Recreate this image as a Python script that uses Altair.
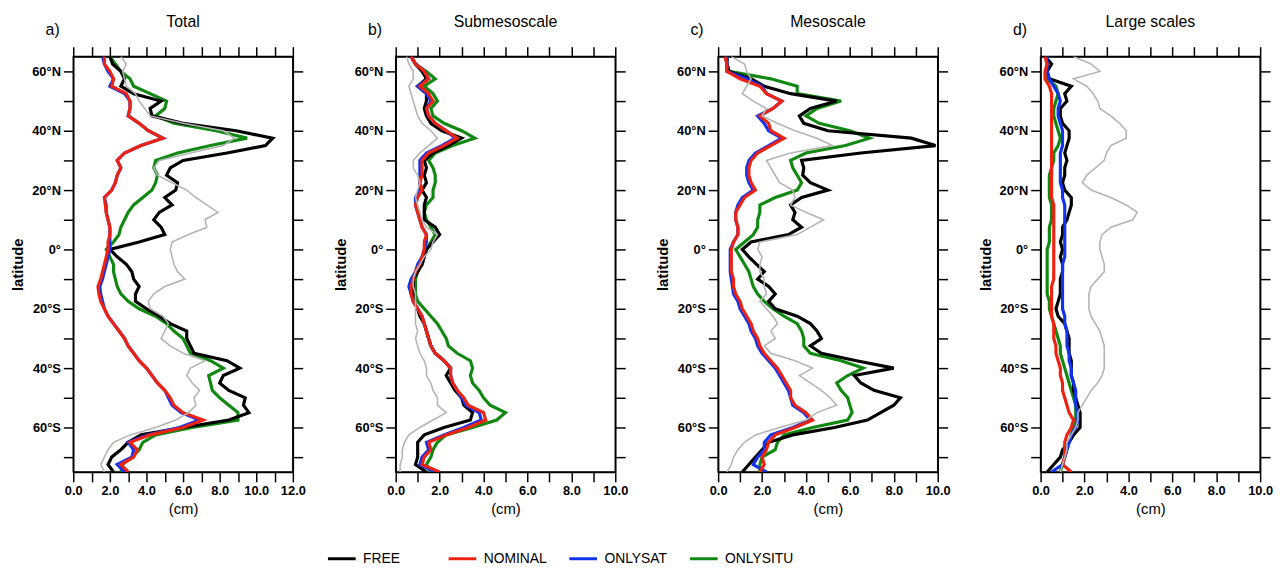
import altair as alt
import pandas as pd

# latitude grid (north to south), 2.5 degree steps
LAT = [65.0, 62.5, 60.0, 57.5, 55.0, 52.5, 50.0, 47.5, 45.0, 42.5,
       40.0, 37.5, 35.0, 32.5, 30.0, 27.5, 25.0, 22.5, 20.0, 17.5,
       15.0, 12.5, 10.0, 7.5, 5.0, 2.5, 0.0, -2.5, -5.0, -7.5,
       -10.0, -12.5, -15.0, -17.5, -20.0, -22.5, -25.0, -27.5, -30.0, -32.5,
       -35.0, -37.5, -40.0, -42.5, -45.0, -47.5, -50.0, -52.5, -55.0, -57.5,
       -60.0, -62.5, -65.0, -67.5, -70.0, -72.5, -75.0]

SERIES = ["FREE", "NOMINAL", "ONLYSAT", "ONLYSITU"]
COLORS = ["#000000", "#ee2211", "#1133ee", "#118811"]
GRAY_NAME = "REFERENCE"
GRAY = "#b4b4b4"

PANELS = ["Total", "Submesoscale", "Mesoscale", "Large scales"]
LETTERS = ["a)", "b)", "c)", "d)"]
XMAX = [12, 10, 10, 10]

# ---- a) Total
a_free = [2.0, 2.15, 2.6, 2.8, 2.6, 3.3, 4.8, 4.2, 4.3, 6.0,
          8.9, 10.9, 10.5, 8.4, 6.0, 5.3, 5.1, 5.7, 5.6, 5.0,
          5.4, 4.7, 4.4, 4.8, 5.0, 3.6, 2.0, 2.4, 2.9, 3.2,
          3.3, 3.6, 3.4, 3.4, 4.0, 4.7, 5.3, 6.2, 6.2, 6.4,
          6.6, 8.4, 9.1, 8.2, 8.0, 8.5, 9.4, 9.3, 9.6, 8.5,
          6.0, 3.7, 3.0, 2.6, 2.1, 1.9, 2.2]
a_nominal = [1.7, 1.7, 2.0, 2.2, 2.1, 2.9, 3.1, 3.1, 3.0, 3.6,
             4.1, 4.9, 3.7, 2.8, 2.4, 2.6, 2.4, 2.3, 2.1, 1.7,
             1.75, 1.8, 1.9, 2.0, 2.0, 1.9, 1.9, 1.8, 1.7, 1.6,
             1.5, 1.35, 1.4, 1.5, 1.7, 1.9, 2.2, 2.5, 2.8, 3.0,
             3.3, 3.6, 4.0, 4.3, 4.6, 5.0, 5.3, 5.5, 6.0, 7.1,
             6.0, 4.2, 3.1, 3.5, 3.3, 2.6, 3.0]
a_onlysat = [1.6, 1.7, 1.9, 2.2, 2.0, 2.8, 3.1, 3.1, 3.0, 3.6,
             4.1, 4.9, 3.7, 2.8, 2.4, 2.6, 2.4, 2.3, 2.1, 1.7,
             1.8, 1.8, 1.9, 2.0, 2.0, 2.0, 2.0, 1.9, 1.8, 1.7,
             1.6, 1.45, 1.5, 1.6, 1.7, 1.9, 2.2, 2.5, 2.8, 3.0,
             3.3, 3.6, 4.0, 4.3, 4.6, 5.0, 5.2, 5.4, 5.9, 6.9,
             5.8, 4.1, 3.0, 3.3, 3.2, 2.4, 2.8]
a_onlysitu = [2.0, 2.3, 2.6, 3.1, 3.3, 4.2, 5.1, 5.0, 4.5, 5.5,
              7.8, 9.5, 7.5, 5.7, 4.5, 4.4, 4.6, 4.5, 4.3, 3.8,
              3.3, 3.0, 2.8, 2.6, 2.5, 2.2, 1.8, 2.0, 2.2, 2.2,
              2.3, 2.4, 2.6, 3.0, 3.6, 4.5, 5.1, 5.5, 6.0, 6.2,
              6.4, 7.5, 8.2, 7.4, 7.5, 7.6, 8.0, 8.5, 9.0, 9.0,
              6.5, 4.5, 3.8, 3.6, 3.2, 2.7, 2.6]
a_ref = [2.6, 2.9, 2.7, 2.8, 2.9, 3.4, 3.6, 3.9, 4.2, 6.0,
         8.2, 8.8, 8.2, 6.4, 4.7, 4.4, 4.6, 5.4, 6.2, 6.7,
         7.3, 7.9, 7.2, 7.3, 6.3, 5.4, 5.3, 5.4, 5.5, 5.7,
         6.1, 5.0, 4.4, 4.1, 4.2, 4.9, 5.2, 5.0, 4.8, 5.3,
         6.0, 7.2, 6.4, 6.2, 6.5, 6.9, 6.6, 6.7, 6.3, 5.6,
         4.5, 3.1, 2.2, 1.9, 1.7, 1.5, 1.7]

# ---- b) Submesoscale
b_free = [0.7, 0.9, 1.2, 1.4, 1.0, 1.4, 1.4, 1.3, 1.4, 1.6,
          2.1, 3.0, 2.4, 1.7, 1.3, 1.4, 1.3, 1.4, 1.2, 1.4,
          1.3, 1.3, 1.3, 1.8, 2.0, 1.7, 1.4, 1.3, 1.2, 1.0,
          0.8, 0.8, 0.8, 0.8, 1.0, 1.1, 1.3, 1.4, 1.5, 1.6,
          1.8, 2.2, 2.5, 2.3, 2.5, 2.7, 3.0, 3.1, 3.5, 3.4,
          2.2, 1.3, 1.0, 1.0, 1.0, 0.9, 1.4]
b_nominal = [0.7, 0.9, 1.3, 1.5, 1.1, 1.5, 1.7, 1.4, 1.5, 1.8,
             2.3, 2.8, 2.2, 1.5, 1.2, 1.2, 1.2, 1.1, 1.2, 1.0,
             0.9, 1.0, 1.1, 1.2, 1.4, 1.3, 1.3, 1.2, 1.1, 0.9,
             0.8, 0.7, 0.7, 0.8, 1.0, 1.2, 1.3, 1.4, 1.5, 1.6,
             1.8, 2.2, 2.5, 2.5, 2.6, 2.8, 3.1, 3.3, 4.0, 4.1,
             3.3, 2.3, 1.5, 1.6, 1.3, 1.2, 2.0]
b_onlysat = [0.7, 0.9, 1.3, 1.5, 1.0, 1.4, 1.6, 1.4, 1.5, 1.8,
             2.3, 2.7, 2.1, 1.4, 1.1, 1.1, 1.1, 1.1, 1.1, 0.9,
             0.9, 1.0, 1.1, 1.2, 1.4, 1.4, 1.3, 1.2, 1.0, 0.9,
             0.7, 0.6, 0.7, 0.8, 1.0, 1.2, 1.3, 1.4, 1.5, 1.6,
             1.8, 2.2, 2.5, 2.5, 2.6, 2.8, 3.0, 3.2, 3.8, 3.9,
             3.1, 2.2, 1.4, 1.5, 1.2, 1.1, 1.8]
b_onlysitu = [0.7, 0.9, 1.4, 1.8, 1.3, 1.7, 1.9, 1.6, 1.7, 2.2,
              3.0, 3.6, 2.6, 1.8, 1.5, 1.7, 1.8, 1.8, 1.7, 1.7,
              1.4, 1.3, 1.4, 1.6, 1.8, 1.6, 1.4, 1.3, 1.2, 1.0,
              0.9, 0.9, 0.9, 1.0, 1.3, 1.6, 1.9, 2.1, 2.3, 2.4,
              2.8, 3.4, 3.5, 3.4, 3.5, 3.8, 4.0, 4.3, 5.0, 4.6,
              3.5, 2.3, 1.9, 1.7, 1.6, 1.4, 1.6]
b_ref = [0.5, 0.6, 0.8, 0.8, 0.6, 0.7, 0.8, 0.9, 1.0, 1.2,
         1.6, 1.9, 1.5, 1.1, 0.8, 0.8, 1.0, 1.1, 1.0, 0.9,
         1.0, 1.1, 1.2, 1.4, 1.9, 1.7, 1.6, 1.3, 1.1, 0.9,
         0.8, 0.8, 0.9, 0.9, 0.9, 0.9, 0.9, 1.0, 0.9, 1.0,
         1.1, 1.3, 1.4, 1.4, 1.6, 1.7, 1.9, 1.9, 2.3, 1.7,
         1.1, 0.6, 0.4, 0.3, 0.3, 0.2, 0.2]

# ---- c) Mesoscale
c_free = [0.4, 0.4, 0.5, 1.5, 2.1, 3.3, 5.4, 4.2, 3.7, 3.9,
          5.0, 8.8, 9.9, 6.5, 3.8, 3.9, 3.85, 4.2, 5.0, 3.8,
          3.3, 3.5, 3.4, 3.8, 3.2, 1.5, 1.1, 1.4, 1.75, 2.1,
          1.8, 2.3, 2.6, 2.3, 2.6, 3.6, 4.2, 4.5, 4.7, 4.2,
          4.7, 6.3, 8.0, 6.2, 6.5, 7.1, 8.3, 8.0, 7.4, 6.8,
          5.3, 3.4, 2.3, 2.0, 1.7, 1.4, 1.1]
c_nominal = [0.3, 0.4, 0.4, 1.0, 1.9, 2.2, 2.9, 2.5, 1.9, 2.3,
             2.4, 3.0, 2.4, 1.8, 1.5, 1.4, 1.4, 1.5, 1.7, 1.2,
             1.0, 0.8, 0.8, 0.9, 0.9, 0.7, 0.6, 0.6, 0.6, 0.6,
             0.7, 0.7, 0.8, 1.0, 1.1, 1.3, 1.5, 1.6, 1.8, 1.9,
             2.1, 2.4, 2.7, 2.9, 3.1, 3.3, 3.3, 3.5, 4.0, 4.3,
             3.5, 2.6, 2.3, 2.2, 2.0, 2.1, 1.9]
c_onlysat = [0.4, 0.4, 0.4, 1.3, 2.0, 2.2, 2.9, 2.5, 1.8, 2.1,
             2.3, 2.9, 2.3, 1.7, 1.4, 1.3, 1.3, 1.4, 1.6, 1.1,
             0.9, 0.8, 0.8, 0.9, 0.9, 0.7, 0.55, 0.55, 0.55, 0.55,
             0.6, 0.65, 0.7, 0.9, 1.0, 1.2, 1.4, 1.5, 1.7, 1.8,
             2.0, 2.3, 2.6, 2.8, 3.0, 3.2, 3.3, 3.4, 3.9, 4.2,
             3.4, 2.4, 2.1, 2.1, 1.8, 1.6, 2.2]
c_onlysitu = [0.4, 0.4, 0.5, 2.4, 3.6, 3.6, 5.6, 4.5, 4.0, 4.6,
              6.0, 6.9, 5.8, 4.0, 3.3, 3.4, 3.6, 3.8, 3.6, 2.6,
              1.9, 1.9, 1.8, 1.8, 1.6, 1.2, 0.8, 1.0, 1.2, 1.4,
              1.5, 1.6, 1.8, 2.1, 2.5, 3.0, 3.6, 3.8, 3.9, 3.9,
              4.2, 5.6, 6.6, 5.9, 5.4, 5.6, 5.9, 6.0, 6.1, 5.9,
              4.3, 3.0, 2.7, 2.6, 2.0, 1.9, 1.9]
c_ref = [0.6, 1.2, 1.3, 1.5, 1.3, 1.1, 1.6, 2.2, 2.0, 2.7,
         3.5, 4.5, 5.2, 3.3, 2.2, 2.4, 2.6, 2.8, 3.4, 3.5,
         3.3, 4.0, 4.8, 4.2, 3.6, 1.9, 1.8, 2.0, 1.9, 1.9,
         2.1, 2.1, 2.2, 1.9, 2.2, 2.5, 2.7, 2.4, 2.6, 2.1,
         2.4, 3.5, 4.3, 3.7, 4.2, 4.7, 5.1, 5.4, 4.5, 4.0,
         2.8, 1.7, 1.2, 0.9, 0.7, 0.6, 0.4]

# ---- d) Large scales
d_free = [0.2, 0.5, 0.3, 0.4, 1.4, 1.1, 1.2, 0.9, 0.9, 1.0,
          1.3, 1.3, 1.2, 1.1, 1.2, 1.1, 1.1, 1.0, 1.1, 1.4,
          1.4, 1.3, 1.2, 1.0, 1.0, 0.9, 1.0, 0.9, 1.0, 1.0,
          0.9, 0.9, 0.9, 0.8, 0.7, 0.8, 1.1, 1.2, 1.3, 1.3,
          1.3, 1.4, 1.4, 1.4, 1.5, 1.5, 1.6, 1.7, 1.8, 1.8,
          1.8, 1.5, 1.3, 1.0, 0.9, 0.6, 0.3]
d_nominal = [0.2, 0.3, 0.2, 0.2, 0.4, 0.5, 0.5, 0.5, 0.5, 0.5,
             0.5, 0.5, 0.5, 0.5, 0.5, 0.5, 0.5, 0.5, 0.5, 0.5,
             0.6, 0.6, 0.6, 0.6, 0.6, 0.6, 0.6, 0.6, 0.6, 0.6,
             0.6, 0.5, 0.5, 0.5, 0.5, 0.5, 0.6, 0.6, 0.6, 0.7,
             0.7, 0.8, 0.9, 0.9, 1.0, 1.0, 1.1, 1.2, 1.3, 1.5,
             1.4, 1.2, 1.1, 1.1, 1.1, 1.0, 1.4]
d_onlysat = [0.3, 0.3, 0.3, 0.4, 0.6, 0.8, 0.9, 0.8, 0.8, 0.9,
             1.0, 1.0, 1.0, 0.9, 0.9, 0.9, 0.9, 0.9, 1.0, 1.0,
             1.1, 1.1, 1.1, 1.1, 1.1, 1.1, 1.1, 1.1, 1.0, 1.0,
             1.0, 1.0, 1.0, 1.0, 1.0, 1.1, 1.1, 1.2, 1.2, 1.2,
             1.3, 1.3, 1.4, 1.4, 1.5, 1.6, 1.6, 1.6, 1.7, 1.7,
             1.6, 1.4, 1.3, 1.2, 1.1, 1.0, 0.5]
d_onlysitu = [0.3, 0.3, 0.3, 0.3, 0.7, 0.8, 0.7, 0.6, 0.6, 0.7,
              0.8, 0.9, 0.8, 0.6, 0.6, 0.5, 0.4, 0.4, 0.4, 0.4,
              0.5, 0.5, 0.5, 0.4, 0.4, 0.4, 0.3, 0.3, 0.3, 0.3,
              0.3, 0.3, 0.3, 0.4, 0.4, 0.5, 0.6, 0.7, 0.8, 0.9,
              0.9, 1.0, 1.1, 1.2, 1.3, 1.4, 1.5, 1.6, 1.6, 1.6,
              1.5, 1.4, 1.3, 1.2, 1.1, 1.0, 0.9]
d_ref = [1.5, 2.3, 2.7, 1.5, 2.1, 2.4, 2.6, 2.7, 3.2, 3.6,
         3.9, 3.9, 3.2, 3.0, 2.9, 2.5, 2.1, 1.9, 2.3, 3.2,
         3.9, 4.4, 4.2, 3.2, 2.8, 2.7, 2.7, 2.8, 2.9, 2.9,
         2.6, 2.3, 2.2, 2.2, 2.2, 2.3, 2.5, 2.7, 2.8, 2.9,
         2.9, 2.9, 2.9, 2.8, 2.6, 2.3, 2.1, 1.9, 1.7, 1.7,
         1.6, 1.4, 1.2, 1.2, 1.1, 1.0, 0.9]

PANEL_DATA = {
    "Total": {"FREE": a_free, "NOMINAL": a_nominal, "ONLYSAT": a_onlysat,
              "ONLYSITU": a_onlysitu, GRAY_NAME: a_ref},
    "Submesoscale": {"FREE": b_free, "NOMINAL": b_nominal, "ONLYSAT": b_onlysat,
                     "ONLYSITU": b_onlysitu, GRAY_NAME: b_ref},
    "Mesoscale": {"FREE": c_free, "NOMINAL": c_nominal, "ONLYSAT": c_onlysat,
                  "ONLYSITU": c_onlysitu, GRAY_NAME: c_ref},
    "Large scales": {"FREE": d_free, "NOMINAL": d_nominal, "ONLYSAT": d_onlysat,
                     "ONLYSITU": d_onlysitu, GRAY_NAME: d_ref},
}

rows = []
for pname, series in PANEL_DATA.items():
    for sname, vals in series.items():
        for lat, v in zip(LAT, vals):
            rows.append({"panel": pname, "series": sname, "lat": lat, "val": v})
df = pd.DataFrame(rows)

FONT = "Liberation Sans"
LEGEND_FONT = "Liberation Sans Narrow, Arial Narrow, Liberation Sans"
W, H = 222, 420

Y_LABEL = ("datum.value % 20 == 0 ? (datum.value == 0 ? '0\u00b0' : "
           "(abs(datum.value) + '\u00b0' + (datum.value > 0 ? 'N' : 'S'))) : ''")
X_LABEL = "datum.value % 2 == 0 ? format(datum.value, '.1f') : ''"
Y_TICKS = [-70, -60, -50, -40, -30, -20, -10, 0, 10, 20, 30, 40, 50, 60]

color_scale = alt.Scale(domain=SERIES, range=COLORS)
legend = alt.Legend(
    orient="none", legendX=256, legendY=492, direction="horizontal",
    columns=4, gridAlign="all", columnPadding=11,
    symbolType="stroke", symbolSize=784, symbolStrokeWidth=3,
    labelFont=LEGEND_FONT, labelFontSize=14, labelColor="black",
    labelOffset=6, title=None, padding=0,
)


def panel(i):
    name = PANELS[i]
    d = df[df.panel == name]
    xmax = XMAX[i]
    xs = alt.Scale(domain=[0, xmax], nice=False, zero=False)
    ys = alt.Scale(domain=[-75, 65], nice=False, zero=False)
    xticks = list(range(0, xmax + 1))
    base = alt.Chart(d)

    def layer(sname, xaxis, yaxis, gray=False):
        sub = base.transform_filter(alt.datum.series == sname)
        enc = dict(
            x=alt.X("val:Q", scale=xs, axis=xaxis),
            y=alt.Y("lat:Q", scale=ys, axis=yaxis),
            order=alt.Order("lat:Q"),
        )
        if gray:
            return sub.mark_line(strokeWidth=1.6, color=GRAY, clip=True).encode(**enc)
        return sub.mark_line(strokeWidth=3.2, clip=True).encode(
            color=alt.Color("series:N", scale=color_scale, legend=legend), **enc)

    ax_bottom = alt.Axis(orient="bottom", values=xticks, labelExpr=X_LABEL,
                         labelOverlap=False, labelFlush=False,
                         title="(cm)", titleFontSize=15, titleFontWeight="normal",
                         titlePadding=4)
    ax_left = alt.Axis(orient="left", values=Y_TICKS, labelExpr=Y_LABEL,
                       labelOverlap=False, labelFlush=False,
                       title="latitude", titleFontSize=15, titleFontWeight="bold",
                       titlePadding=6)
    ax_top = alt.Axis(orient="top", values=xticks, labels=False, title=None)
    ax_right = alt.Axis(orient="right", values=Y_TICKS, labels=False, title=None)

    l_situ = layer("ONLYSITU", ax_bottom, ax_left)
    l_free = layer("FREE", ax_top, ax_right)
    l_sat = layer("ONLYSAT", None, None)
    l_nom = layer("NOMINAL", None, None)
    l_ref = layer(GRAY_NAME, None, None, gray=True)

    title = alt.Chart(pd.DataFrame({"t": [name]})).mark_text(
        fontSize=16, font=FONT, color="black", align="center", baseline="alphabetic"
    ).encode(text="t:N", x=alt.value(W / 2), y=alt.value(-30))
    letter = alt.Chart(pd.DataFrame({"t": [LETTERS[i]]})).mark_text(
        fontSize=16, font=FONT, color="black", align="left", baseline="alphabetic"
    ).encode(text="t:N", x=alt.value(-28), y=alt.value(-22))

    return alt.layer(l_situ, l_free, l_sat, l_nom, l_ref, title, letter).resolve_axis(
        x="independent", y="independent"
    ).properties(width=W, height=H)


chart = alt.hconcat(*[panel(i) for i in range(4)], spacing=26).resolve_scale(
    x="independent", y="independent", color="shared"
).properties(
    padding={"left": 2, "top": 2, "right": 0, "bottom": 0}
).configure_view(
    stroke="black", strokeWidth=1.5
).configure_axis(
    grid=False, domainColor="black", domainWidth=1.5,
    tickColor="black", tickWidth=1.5, tickSize=10,
    labelFont=FONT, labelFontSize=13, labelFontWeight="bold", labelColor="black",
    labelPadding=3, titleFont=FONT, titleColor="black",
)

chart.save("out.html", embed_options={"renderer": "svg", "actions": False})
